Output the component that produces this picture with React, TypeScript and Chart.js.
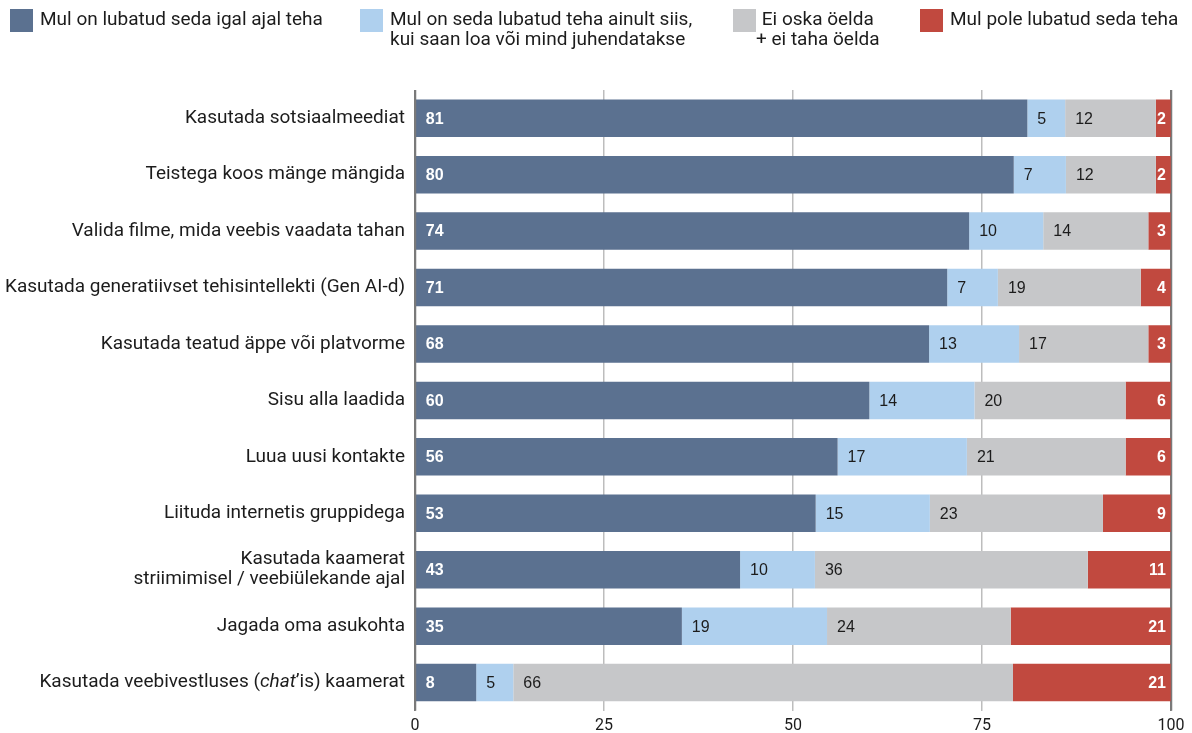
import React, { useEffect, useRef } from "react";
import { Chart, registerables } from "chart.js";

Chart.register(...registerables);

const categories: (string | string[])[] = [
  "Kasutada sotsiaalmeediat",
  "Teistega koos mänge mängida",
  "Valida filme, mida veebis vaadata tahan",
  "Kasutada generatiivset tehisintellekti (Gen AI-d)",
  "Kasutada teatud äppe või platvorme",
  "Sisu alla laadida",
  "Luua uusi kontakte",
  "Liituda internetis gruppidega",
  ["Kasutada kaamerat", "striimimisel / veebiülekande ajal"],
  "Jagada oma asukohta",
  "Kasutada veebivestluses (*chat*’is) kaamerat",
];

const seriesNames = [
  "Mul on lubatud seda igal ajal teha",
  "Mul on seda lubatud teha ainult siis, kui saan loa või mind juhendatakse",
  "Ei oska öelda + ei taha öelda",
  "Mul pole lubatud seda teha",
];

// bar lengths
const allowedAlways = [81, 79.2, 73.3, 70.4, 68, 60.1, 55.9, 53, 43, 35.3, 8.1];
const allowedWithPermission = [5, 6.9, 9.8, 6.7, 11.9, 13.9, 17.1, 15.1, 9.9, 19.2, 4.9];
const dontKnow = [12, 11.9, 13.9, 18.9, 17.1, 20, 21, 22.9, 36.1, 24.3, 66.1];
const notAllowed = [2, 2, 3, 4, 3, 6, 6, 9, 11, 21.2, 20.9];

// printed value labels
const allowedAlwaysLabels = [81, 80, 74, 71, 68, 60, 56, 53, 43, 35, 8];
const allowedWithPermissionLabels = [5, 7, 10, 7, 13, 14, 17, 15, 10, 19, 5];
const dontKnowLabels = [12, 12, 14, 19, 17, 20, 21, 23, 36, 24, 66];
const notAllowedLabels = [2, 2, 3, 4, 3, 6, 6, 9, 11, 21, 21];

const xTicks = [0, 25, 50, 75, 100];

const colors = ["#5b7190", "#afd0ee", "#c6c7c9", "#c1493f"];

const TEXT = "#1c1c1c";
const CAT_FONT = "Roboto";
const CAT_SIZE = 19;

const valueLabelsPlugin = {
  id: "valueLabels",
  afterDatasetsDraw(chart: any) {
    const ctx = chart.ctx;
    const labelSets = [allowedAlwaysLabels, allowedWithPermissionLabels, dontKnowLabels, notAllowedLabels];
    ctx.save();
    ctx.textBaseline = "middle";
    chart.data.datasets.forEach((_ds: any, di: number) => {
      const meta = chart.getDatasetMeta(di);
      meta.data.forEach((el: any, i: number) => {
        const p = el.getProps(["x", "y", "base"], true);
        const txt = String(labelSets[di][i]);
        if (di === 0 || di === 3) {
          ctx.font = "bold 16px 'Liberation Sans', Arial, sans-serif";
          ctx.fillStyle = "#ffffff";
        } else {
          ctx.font = "16px 'Liberation Sans', Arial, sans-serif";
          ctx.fillStyle = TEXT;
        }
        if (di === 3) {
          ctx.textAlign = "right";
          ctx.fillText(txt, p.x - 5, p.y + 1);
        } else {
          ctx.textAlign = "left";
          ctx.fillText(txt, p.base + 10, p.y + 1);
        }
      });
    });
    // axis lines at 0 and 100 drawn over bars
    const xs = chart.scales.x;
    const area = chart.chartArea;
    ctx.strokeStyle = "#7a7a7a";
    ctx.lineWidth = 1.5;
    [0, 100].forEach((v) => {
      const px = Math.round(xs.getPixelForValue(v)) + 0.5;
      ctx.beginPath();
      ctx.moveTo(px, area.top);
      ctx.lineTo(px, area.bottom);
      ctx.stroke();
    });
    ctx.restore();
  },
};

function drawRichRight(ctx: CanvasRenderingContext2D, text: string, right: number, y: number) {
  const parts = text.split("*");
  const fonts = parts.map((_, i) =>
    i % 2 === 1 ? `italic ${CAT_SIZE}px ${CAT_FONT}` : `${CAT_SIZE}px ${CAT_FONT}`
  );
  let total = 0;
  const widths = parts.map((p, i) => {
    ctx.font = fonts[i];
    const w = ctx.measureText(p).width;
    total += w;
    return w;
  });
  let x = right - total;
  ctx.textAlign = "left";
  parts.forEach((p, i) => {
    ctx.font = fonts[i];
    ctx.fillText(p, x, y);
    x += widths[i];
  });
}

const categoryLabelsPlugin = {
  id: "categoryLabels",
  afterDraw(chart: any) {
    const ctx = chart.ctx;
    const ys = chart.scales.y;
    const right = chart.chartArea.left - 10;
    ctx.save();
    ctx.fillStyle = TEXT;
    ctx.textBaseline = "middle";
    categories.forEach((c, i) => {
      const cy = ys.getPixelForValue(i);
      const lines = Array.isArray(c) ? c : [c];
      const lh = 20;
      lines.forEach((line, li) => {
        const ly = cy + (li - (lines.length - 1) / 2) * lh;
        drawRichRight(ctx, line, right, ly);
      });
    });
    ctx.restore();
  },
};

function LegendItem(props: { left: number; color: string; lines: string[]; center?: boolean; textLeft: number }) {
  return (
    <>
      <div
        style={{
          position: "absolute",
          left: props.left,
          top: 9,
          width: 23,
          height: 23,
          background: props.color,
        }}
      />
      <div
        style={{
          position: "absolute",
          left: props.textLeft,
          top: 9,
          font: `${CAT_SIZE}px ${CAT_FONT}`,
          lineHeight: "20px",
          color: TEXT,
          whiteSpace: "nowrap",
          textAlign: props.center ? "center" : "left",
        }}
      >
        {props.lines.map((l, i) => (
          <div key={i}>{l}</div>
        ))}
      </div>
    </>
  );
}

export default function App() {
  const ref = useRef<HTMLCanvasElement>(null);

  useEffect(() => {
    if (!ref.current) return;
    const chart = new Chart(ref.current, {
      type: "bar",
      data: {
        labels: categories.map((c) => (Array.isArray(c) ? c.join(" ") : c.replace(/\*/g, ""))),
        datasets: [allowedAlways, allowedWithPermission, dontKnow, notAllowed].map((d, i) => ({
          label: seriesNames[i],
          data: d,
          backgroundColor: colors[i],
          borderWidth: 0,
          categoryPercentage: 1,
          barPercentage: 0.665,
        })),
      },
      options: {
        indexAxis: "y",
        responsive: false,
        animation: false,
        layout: { padding: { left: 415, right: 21, top: 90, bottom: 0 } },
        plugins: {
          legend: { display: false },
          tooltip: { enabled: false },
          title: { display: false },
        },
        scales: {
          x: {
            stacked: true,
            min: 0,
            max: 100,
            afterBuildTicks: (scale: any) => {
              scale.ticks = xTicks.map((v) => ({ value: v }));
            },
            grid: {
              color: (c: any) => (c.tick && (c.tick.value === 0 || c.tick.value === 100) ? "#7a7a7a" : "#bdbdbd"),
              lineWidth: 1.5,
              drawTicks: false,
            },
            border: { display: false },
            ticks: {
              padding: 6,
              color: TEXT,
              font: { family: CAT_FONT, size: 16 },
            },
          },
          y: {
            stacked: true,
            display: false,
          },
        },
      },
      plugins: [valueLabelsPlugin, categoryLabelsPlugin],
    } as any);
    return () => chart.destroy();
  }, []);

  return (
    <div
      style={{
        position: "fixed",
        left: 0,
        top: 0,
        width: 1192,
        height: 733,
        background: "#fff",
        overflow: "hidden",
      }}
    >
      <canvas ref={ref} width={1192} height={742} style={{ position: "absolute", left: 0, top: 0 }} />
      <LegendItem left={10} textLeft={40} color={colors[0]} lines={["Mul on lubatud seda igal ajal teha"]} />
      <LegendItem
        left={360}
        textLeft={390}
        color={colors[1]}
        lines={["Mul on seda lubatud teha ainult siis,", "kui saan loa või mind juhendatakse"]}
      />
      <LegendItem left={733} textLeft={756} color={colors[2]} center lines={["Ei oska öelda", "+ ei taha öelda"]} />
      <LegendItem left={920} textLeft={950} color={colors[3]} lines={["Mul pole lubatud seda teha"]} />
    </div>
  );
}
